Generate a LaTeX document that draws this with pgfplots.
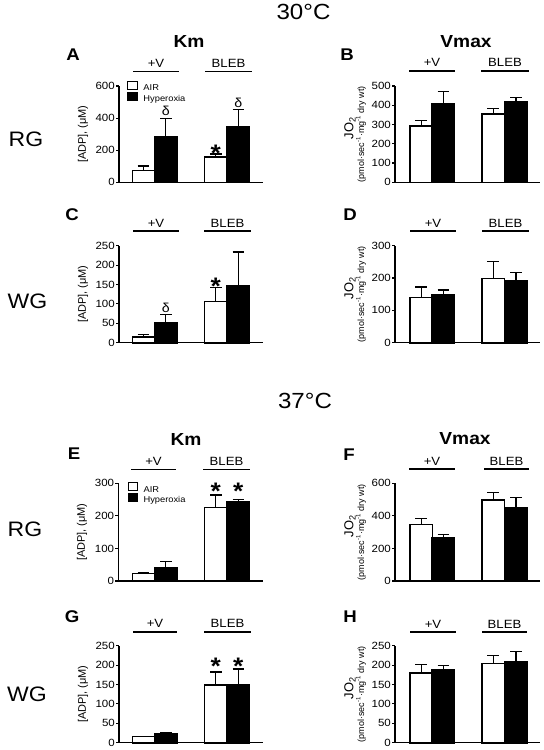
\documentclass[border=0pt]{standalone}
\usepackage{fontspec}
\setmainfont{Liberation Sans}[FakeStretch=1.1]
\newfontfamily\plainsans{Liberation Sans}
\usepackage{pgfplots}
\pgfplotsset{compat=1.18}
\tikzset{
  dlt/.style={font=\fontsize{13}{13}\selectfont, inner sep=0pt, anchor=base},
  ast/.style={font=\bfseries\fontsize{24}{24}\selectfont, inner sep=0pt, anchor=base, yshift=-9.3bp},
}
\pgfplotsset{
  panel/.style={
    scale only axis, anchor=south west,
    axis lines*=left, axis line style={line width=1.2bp, -},
    ymin=0, xmin=0, xtick=\empty, enlargelimits=false,
    tick align=outside, major tick length=3bp,
    ytick style={line width=1.1bp, black},
    yticklabel style={font=\fontsize{10.5}{10.5}\selectfont, inner sep=1bp},
    /pgf/number format/assume math mode=true,
    ybar, bar width=22.3, clip=false,
  },
  errs/.style={error bars/.cd, y dir=plus, y explicit,
    error bar style={line width=1.2bp, black},
    error mark options={rotate=90, line width=1.2bp, mark size=5.8bp, black}},
  air/.style={draw=black, fill=white, line width=1.6bp, bar shift=0pt, errs},
  hyp/.style={draw=black, fill=black, line width=1.6bp, bar shift=0pt, errs},
  leftlab/.style={ylabel style={font=\plainsans\fontsize{11}{11}\selectfont, at={(axis description cs:-0.25,0.5)}, anchor=center}},
  rightlab/.style={ylabel={JO\textsubscript{2}}, ylabel style={font=\plainsans\fontsize{13}{13}\selectfont, at={(axis description cs:-0.31,0.56)}, anchor=center}},
  leg/.style={legend style={draw=none, fill=none, inner sep=0pt, outer sep=0pt, at={#1}, anchor=north west,
      font=\fontsize{8.5}{8.5}\selectfont, row sep=-1.2bp,
      nodes={inner sep=0.5bp, text height=6.2bp, text depth=1.8bp},
      /tikz/every odd column/.append style={column sep=5bp}},
    legend cell align=left,
    legend image code/.code={\draw[##1, line width=1bp] (0bp,-1bp) rectangle (9.5bp,7bp);}},
}
\newcommand{\unitlab}{(pmol·sec\textsuperscript{-1}·mg\textsuperscript{-1} dry wt)}
\begin{document}
\begin{tikzpicture}
\path[use as bounding box] (0,0) rectangle (544bp,-750bp);

% ---------- top texts
\node[font=\fontsize{22}{22}\selectfont] at (303.5bp,-12bp) {30°C};
\node[font=\fontsize{22}{22}\selectfont] at (305bp,-400.5bp) {37°C};
\node[font=\fontsize{21}{21}\selectfont] at (26bp,-139.5bp) {RG};
\node[font=\fontsize{21}{21}\selectfont] at (27.5bp,-301bp) {WG};
\node[font=\fontsize{21}{21}\selectfont] at (25bp,-529bp) {RG};
\node[font=\fontsize{21}{21}\selectfont] at (27bp,-694bp) {WG};

\node[font=\bfseries\fontsize{17.5}{17.5}\selectfont] at (189bp,-41.5bp) {Km};
\node[font=\bfseries\fontsize{17.5}{17.5}\selectfont] at (466bp,-41.5bp) {Vmax};
\node[font=\bfseries\fontsize{17.5}{17.5}\selectfont] at (186bp,-439bp) {Km};
\node[font=\bfseries\fontsize{17.5}{17.5}\selectfont] at (465bp,-439bp) {Vmax};

\node[font=\bfseries\fontsize{17}{17}\selectfont] at (73bp,-55bp) {A};
\node[font=\bfseries\fontsize{17}{17}\selectfont] at (347bp,-55bp) {B};
\node[font=\bfseries\fontsize{17}{17}\selectfont] at (72bp,-215bp) {C};
\node[font=\bfseries\fontsize{17}{17}\selectfont] at (350bp,-215bp) {D};
\node[font=\bfseries\fontsize{17}{17}\selectfont] at (74bp,-454bp) {E};
\node[font=\bfseries\fontsize{17}{17}\selectfont] at (349bp,-455bp) {F};
\node[font=\bfseries\fontsize{17}{17}\selectfont] at (72bp,-617bp) {G};
\node[font=\bfseries\fontsize{17}{17}\selectfont] at (350bp,-617bp) {H};

% group lines and labels
\begin{scope}[line width=1.6bp, every node/.style={font=\fontsize{12}{12}\selectfont}]
\draw (133bp,-71.5bp) -- (179bp,-71.5bp); \node at (156bp,-63.5bp) {+V};
\draw (205bp,-71.5bp) -- (252bp,-71.5bp); \node at (228.5bp,-63.5bp) {BLEB};
\draw (409bp,-70.7bp) -- (455bp,-70.7bp); \node at (432bp,-62.7bp) {+V};
\draw (481bp,-70.7bp) -- (529bp,-70.7bp); \node at (505bp,-62.7bp) {BLEB};
\draw (133bp,-231bp) -- (179bp,-231bp); \node at (156bp,-223bp) {+V};
\draw (204bp,-231bp) -- (251bp,-231bp); \node at (227.5bp,-223bp) {BLEB};
\draw (410bp,-231bp) -- (456bp,-231bp); \node at (433bp,-223bp) {+V};
\draw (482bp,-231bp) -- (529bp,-231bp); \node at (505.5bp,-223bp) {BLEB};
\draw (131bp,-469.3bp) -- (176bp,-469.3bp); \node at (153.5bp,-461.3bp) {+V};
\draw (203bp,-469.3bp) -- (250bp,-469.3bp); \node at (226.5bp,-461.3bp) {BLEB};
\draw (409bp,-469bp) -- (455bp,-469bp); \node at (432bp,-461bp) {+V};
\draw (484bp,-469bp) -- (529bp,-469bp); \node at (506.5bp,-461bp) {BLEB};
\draw (133bp,-631.7bp) -- (177bp,-631.7bp); \node at (155bp,-623.7bp) {+V};
\draw (204bp,-631.7bp) -- (251bp,-631.7bp); \node at (227.5bp,-623.7bp) {BLEB};
\draw (410bp,-632bp) -- (456bp,-632bp); \node at (433bp,-624bp) {+V};
\draw (482bp,-632bp) -- (527bp,-632bp); \node at (504.5bp,-624bp) {BLEB};
\end{scope}

% ---------- Panel A
\begin{axis}[panel, at={(119bp,-182.3bp)}, width=144bp, height=96.3bp, xmax=144,
  ymax=600, ytick={0,200,400,600}, leftlab, ylabel={[ADP], (μM)},
  leg={(axis description cs:0.059,1.049)}]
\addplot[air] coordinates {(24.5,73) +- (0,29) (96.8,156) +- (0,20)};
\addplot[hyp] coordinates {(46.8,282) +- (0,117) (119.3,347) +- (0,108)};
\legend{AIR,Hyperoxia}
\node[dlt] at (axis cs:46.8,419) {δ};
\node[dlt] at (axis cs:119.3,469) {δ};
\node[ast] at (axis cs:96.8,189) {*};
\end{axis}

% ---------- Panel B
\begin{axis}[panel, at={(395bp,-182.3bp)}, width=145bp, height=96.3bp, xmax=145,
  ymax=500, ytick={0,100,200,300,400,500}, rightlab]
\addplot[air] coordinates {(26.2,291) +- (0,29) (98.2,355) +- (0,27)};
\addplot[hyp] coordinates {(48.4,408) +- (0,63) (121,419) +- (0,22)};
\node[rotate=90, font=\plainsans\fontsize{9}{9}\selectfont] at (axis description cs:-0.234,0.5) {\unitlab};
\end{axis}

% ---------- Panel C
\begin{axis}[panel, at={(119bp,-342.7bp)}, width=144bp, height=97bp, xmax=144,
  ymax=250, ytick={0,50,100,150,200,250}, leftlab, ylabel={[ADP], (μM)}]
\addplot[air] coordinates {(24.5,14.6) +- (0,7.5) (96.8,106.5) +- (0,36.5)};
\addplot[hyp] coordinates {(46.8,52) +- (0,21) (119.3,147) +- (0,87)};
\node[dlt] at (axis cs:46.8,79) {δ};
\node[ast] at (axis cs:96.8,149) {*};
\end{axis}

% ---------- Panel D
\begin{axis}[panel, at={(395bp,-342.7bp)}, width=145bp, height=97bp, xmax=145,
  ymax=300, ytick={0,100,200,300}, rightlab]
\addplot[air] coordinates {(26.2,140) +- (0,32) (98.2,199) +- (0,52)};
\addplot[hyp] coordinates {(48.4,148) +- (0,15) (121,192.5) +- (0,25.5)};
\node[rotate=90, font=\plainsans\fontsize{9}{9}\selectfont] at (axis description cs:-0.234,0.5) {\unitlab};
\end{axis}

% ---------- Panel E
\begin{axis}[panel, at={(118.3bp,-581bp)}, width=144.7bp, height=97.7bp, xmax=144.7,
  ymax=300, ytick={0,100,200,300}, leftlab, ylabel={[ADP], (μM)},
  leg={(axis description cs:0.064,1.01)}]
\addplot[air] coordinates {(25.2,23.5) +- (0,3.5) (97.5,226) +- (0,38)};
\addplot[hyp] coordinates {(47.5,41) +- (0,18) (120,244) +- (0,7)};
\legend{AIR,Hyperoxia}
\node[ast] at (axis cs:97.5,279) {*};
\node[ast] at (axis cs:120,279) {*};
\end{axis}

% ---------- Panel F
\begin{axis}[panel, at={(395bp,-581bp)}, width=145bp, height=97.7bp, xmax=145,
  ymax=600, ytick={0,200,400,600}, rightlab]
\addplot[air] coordinates {(26.2,348) +- (0,35) (98.2,498) +- (0,45)};
\addplot[hyp] coordinates {(48.4,264) +- (0,21) (121,451) +- (0,61)};
\node[rotate=90, font=\plainsans\fontsize{9}{9}\selectfont] at (axis description cs:-0.234,0.5) {\unitlab};
\end{axis}

% ---------- Panel G
\begin{axis}[panel, at={(119bp,-742.7bp)}, width=144bp, height=97bp, xmax=144,
  ymax=250, ytick={0,50,100,150,200,250}, leftlab, ylabel={[ADP], (μM)}]
\addplot[air] coordinates {(24.5,15.5) +- (0,1.5) (96.8,148) +- (0,34)};
\addplot[hyp] coordinates {(46.8,22) +- (0,3) (119.3,149.5) +- (0,40.5)};
\node[ast] at (axis cs:96.8,200) {*};
\node[ast] at (axis cs:119.3,200) {*};
\end{axis}

% ---------- Panel H
\begin{axis}[panel, at={(395bp,-742.7bp)}, width=145bp, height=97bp, xmax=145,
  ymax=250, ytick={0,50,100,150,200,250}, rightlab]
\addplot[air] coordinates {(26.2,180) +- (0,22) (98.2,204.5) +- (0,20.5)};
\addplot[hyp] coordinates {(48.4,188) +- (0,10.5) (121,209) +- (0,27)};
\node[rotate=90, font=\plainsans\fontsize{9}{9}\selectfont] at (axis description cs:-0.234,0.5) {\unitlab};
\end{axis}
\end{tikzpicture}
\end{document}
